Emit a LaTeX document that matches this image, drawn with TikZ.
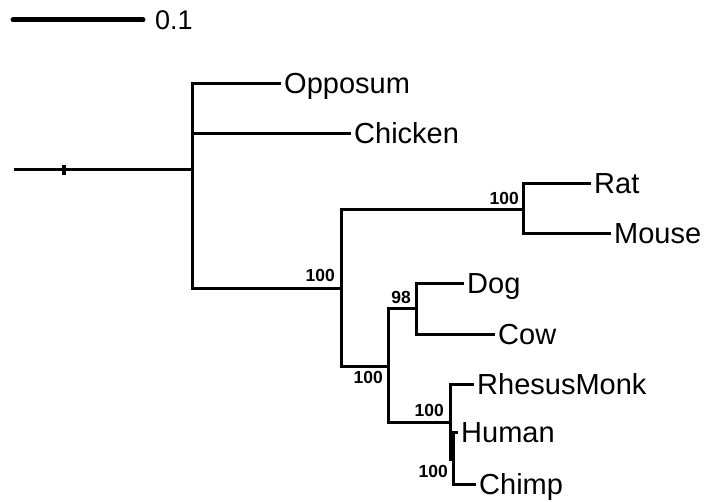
\documentclass[tikz,border=0pt]{standalone}
\usepackage{fontspec}
\setmainfont{Liberation Sans}
\begin{document}
\begin{tikzpicture}[x=1pt,y=-1pt,
  branch/.style={line width=3pt,line cap=rect,line join=miter},
  leaf/.style={anchor=west,inner xsep=5pt,inner ysep=0pt,text height=20pt,text depth=0pt,font=\fontsize{29}{31}\selectfont},
  boot/.style={anchor=base east,inner sep=0pt,font=\fontsize{17.5}{19}\selectfont\bfseries},
  scalelbl/.style={anchor=west,inner sep=0pt,text height=19pt,text depth=0pt,font=\fontsize{27}{30}\selectfont}]
\useasboundingbox (0,0) rectangle (705,502);
\fill[white] (0,0) rectangle (705,502);
% scale bar
\coordinate (sb0) at (13,20);
\coordinate (sb1) at (143,20);
\node[scalelbl] (sbl) at (155,20) {0.1};
\draw[line width=5pt,line cap=round] (sb0) -- (sb1);
% internal nodes
\coordinate (r0) at (15,170);
\coordinate (n1) at (192,170);
\coordinate (n2) at (341,289);
\coordinate (n3) at (523,210);
\coordinate (n4) at (388,367);
\coordinate (n5) at (416,309);
\coordinate (n6) at (450,423);
\coordinate (n7) at (453,460);
\coordinate (tk0) at (64,165);
\coordinate (tk1) at (64,175);
% leaves
\node[leaf] (opp) at (279,84) {Opposum};
\node[leaf] (chk) at (349,134) {Chicken};
\node[leaf] (rat) at (589,184) {Rat};
\node[leaf] (mou) at (609,234) {Mouse};
\node[leaf] (dog) at (462,284) {Dog};
\node[leaf] (cow) at (493,335) {Cow};
\node[leaf] (rhe) at (472,385) {RhesusMonk};
\node[leaf] (hum) at (456,433) {Human};
\node[leaf] (chp) at (474,485) {Chimp};
% branches
\draw[branch] (r0) -- (n1);
\draw[line width=4pt] (tk0) -- (tk1);
\draw[branch] (n1) |- (opp.west);
\draw[branch] (n1) |- (chk.west);
\draw[branch] (n1) |- (n2);
\draw[branch] (n2) |- (n3);
\draw[branch] (n2) |- (n4);
\draw[branch] (n3) |- (rat.west);
\draw[branch] (n3) |- (mou.west);
\draw[branch] (n4) |- (n5);
\draw[branch] (n4) |- (n6);
\draw[branch] (n5) |- (dog.west);
\draw[branch] (n5) |- (cow.west);
\draw[branch] (n6) |- (rhe.west);
\draw[branch] (n6) |- (n7);
\draw[branch] (n7) |- (hum.west);
\draw[branch] (n7) |- (chp.west);
% bootstrap values
\node[boot] (b1) at (335,282) {100};
\node[boot] (b2) at (519,205) {100};
\node[boot] (b3) at (411,304) {98};
\node[boot] (b4) at (383,384) {100};
\node[boot] (b5) at (444,417) {100};
\node[boot] (b6) at (448,478) {100};
\end{tikzpicture}
\end{document}
